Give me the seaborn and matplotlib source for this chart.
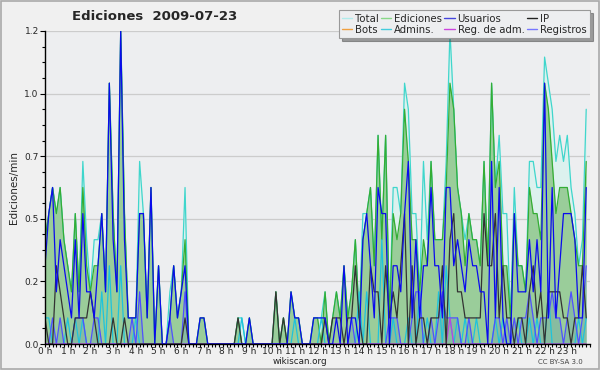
import numpy as np
import pandas as pd
import matplotlib
matplotlib.use("Agg")
import matplotlib.pyplot as plt
from matplotlib.lines import Line2D
from matplotlib.patches import Rectangle
import seaborn as sns

# edits per minute, one value per 10 minutes (144 bins)
total = [
    0.4, 0.5, 0.6, 0.5, 0.6, 0.4, 0.3, 0.2, 0.5, 0.2, 0.7, 0.4,
    0.2, 0.4, 0.4, 0.5, 0.2, 1.0, 0.5, 0.2, 1.2, 0.5, 0.1, 0.1,
    0.1, 0.7, 0.5, 0.1, 0.6, 0.0, 0.3, 0.0, 0.0, 0.2, 0.3, 0.1,
    0.2, 0.6, 0.0, 0.0, 0.0, 0.1, 0.1, 0.0, 0.0, 0.0, 0.0, 0.0,
    0.0, 0.0, 0.0, 0.1, 0.1, 0.0, 0.1, 0.0, 0.0, 0.0, 0.0, 0.0,
    0.0, 0.2, 0.0, 0.1, 0.0, 0.2, 0.1, 0.1, 0.0, 0.0, 0.0, 0.1,
    0.1, 0.1, 0.2, 0.0, 0.1, 0.2, 0.1, 0.3, 0.1, 0.2, 0.4, 0.1,
    0.5, 0.5, 0.6, 0.3, 0.8, 0.4, 0.8, 0.1, 0.6, 0.6, 0.5, 1.0,
    0.9, 0.5, 0.5, 0.2, 0.7, 0.4, 0.7, 0.4, 0.4, 0.4, 0.7, 1.2,
    0.9, 0.6, 0.5, 0.4, 0.5, 0.4, 0.4, 0.3, 0.7, 0.3, 1.0, 0.6,
    0.8, 0.5, 0.5, 0.1, 0.6, 0.3, 0.3, 0.2, 0.7, 0.7, 0.6, 0.6,
    1.1, 1.0, 0.9, 0.7, 0.8, 0.7, 0.8, 0.6, 0.5, 0.3, 0.4, 0.9,
]
ediciones = [
    0.4, 0.5, 0.6, 0.5, 0.6, 0.4, 0.3, 0.2, 0.5, 0.2, 0.6, 0.3,
    0.2, 0.3, 0.3, 0.5, 0.2, 1.0, 0.5, 0.2, 1.2, 0.5, 0.1, 0.1,
    0.1, 0.5, 0.5, 0.1, 0.6, 0.0, 0.3, 0.0, 0.0, 0.1, 0.3, 0.1,
    0.2, 0.4, 0.0, 0.0, 0.0, 0.1, 0.1, 0.0, 0.0, 0.0, 0.0, 0.0,
    0.0, 0.0, 0.0, 0.1, 0.0, 0.0, 0.1, 0.0, 0.0, 0.0, 0.0, 0.0,
    0.0, 0.2, 0.0, 0.1, 0.0, 0.2, 0.1, 0.1, 0.0, 0.0, 0.0, 0.1,
    0.1, 0.0, 0.2, 0.0, 0.1, 0.2, 0.1, 0.3, 0.1, 0.2, 0.4, 0.1,
    0.4, 0.5, 0.6, 0.3, 0.8, 0.4, 0.8, 0.1, 0.5, 0.4, 0.5, 0.9,
    0.7, 0.4, 0.4, 0.2, 0.4, 0.3, 0.7, 0.4, 0.4, 0.4, 0.6, 1.0,
    0.9, 0.6, 0.5, 0.3, 0.5, 0.4, 0.4, 0.3, 0.7, 0.3, 1.0, 0.6,
    0.7, 0.3, 0.3, 0.1, 0.5, 0.3, 0.3, 0.2, 0.6, 0.5, 0.5, 0.4,
    1.0, 0.9, 0.7, 0.5, 0.6, 0.6, 0.6, 0.5, 0.4, 0.3, 0.3, 0.7,
]
usuarios = [
    0.3, 0.5, 0.6, 0.2, 0.4, 0.3, 0.2, 0.1, 0.4, 0.1, 0.5, 0.2,
    0.2, 0.1, 0.3, 0.5, 0.2, 1.0, 0.4, 0.2, 1.2, 0.4, 0.1, 0.1,
    0.1, 0.5, 0.5, 0.1, 0.6, 0.0, 0.3, 0.0, 0.0, 0.1, 0.3, 0.1,
    0.2, 0.3, 0.0, 0.0, 0.0, 0.1, 0.1, 0.0, 0.0, 0.0, 0.0, 0.0,
    0.0, 0.0, 0.0, 0.0, 0.0, 0.0, 0.1, 0.0, 0.0, 0.0, 0.0, 0.0,
    0.0, 0.0, 0.0, 0.0, 0.0, 0.2, 0.1, 0.1, 0.0, 0.0, 0.0, 0.1,
    0.1, 0.1, 0.1, 0.0, 0.0, 0.1, 0.0, 0.3, 0.0, 0.1, 0.1, 0.0,
    0.4, 0.5, 0.3, 0.1, 0.6, 0.5, 0.5, 0.0, 0.3, 0.3, 0.2, 0.5,
    0.7, 0.1, 0.4, 0.1, 0.3, 0.3, 0.6, 0.3, 0.3, 0.1, 0.6, 0.6,
    0.3, 0.4, 0.3, 0.2, 0.4, 0.3, 0.3, 0.2, 0.2, 0.0, 0.7, 0.1,
    0.6, 0.1, 0.0, 0.0, 0.5, 0.2, 0.2, 0.2, 0.4, 0.2, 0.4, 0.2,
    1.0, 0.1, 0.6, 0.1, 0.3, 0.5, 0.5, 0.5, 0.4, 0.1, 0.1, 0.6,
]
ip = [
    0.1, 0.0, 0.0, 0.3, 0.2, 0.1, 0.0, 0.0, 0.1, 0.1, 0.1, 0.1,
    0.2, 0.1, 0.0, 0.0, 0.0, 0.0, 0.1, 0.0, 0.0, 0.1, 0.0, 0.0,
    0.0, 0.0, 0.0, 0.0, 0.0, 0.0, 0.0, 0.0, 0.0, 0.0, 0.0, 0.0,
    0.0, 0.1, 0.0, 0.0, 0.0, 0.0, 0.0, 0.0, 0.0, 0.0, 0.0, 0.0,
    0.0, 0.0, 0.0, 0.1, 0.0, 0.0, 0.0, 0.0, 0.0, 0.0, 0.0, 0.0,
    0.0, 0.2, 0.0, 0.1, 0.0, 0.0, 0.0, 0.0, 0.0, 0.0, 0.0, 0.0,
    0.0, 0.0, 0.1, 0.0, 0.1, 0.1, 0.1, 0.0, 0.1, 0.1, 0.3, 0.1,
    0.0, 0.0, 0.3, 0.2, 0.2, 0.0, 0.3, 0.1, 0.2, 0.1, 0.3, 0.5,
    0.0, 0.3, 0.0, 0.1, 0.1, 0.0, 0.1, 0.1, 0.1, 0.3, 0.0, 0.4,
    0.5, 0.2, 0.2, 0.1, 0.1, 0.1, 0.1, 0.1, 0.5, 0.3, 0.3, 0.5,
    0.1, 0.3, 0.1, 0.1, 0.0, 0.1, 0.1, 0.0, 0.2, 0.3, 0.1, 0.2,
    0.0, 0.2, 0.2, 0.2, 0.2, 0.1, 0.1, 0.0, 0.1, 0.1, 0.3, 0.1,
]
admins = [
    0.1, 0.1, 0.0, 0.0, 0.0, 0.0, 0.1, 0.0, 0.1, 0.0, 0.1, 0.0,
    0.0, 0.0, 0.0, 0.2, 0.0, 0.3, 0.0, 0.0, 0.3, 0.0, 0.0, 0.0,
    0.1, 0.0, 0.0, 0.0, 0.0, 0.0, 0.0, 0.0, 0.0, 0.0, 0.0, 0.0,
    0.0, 0.0, 0.0, 0.0, 0.0, 0.0, 0.0, 0.0, 0.0, 0.0, 0.0, 0.0,
    0.0, 0.0, 0.0, 0.0, 0.1, 0.0, 0.0, 0.0, 0.0, 0.0, 0.0, 0.0,
    0.0, 0.0, 0.0, 0.0, 0.0, 0.0, 0.1, 0.0, 0.0, 0.0, 0.0, 0.0,
    0.0, 0.1, 0.0, 0.0, 0.0, 0.0, 0.0, 0.0, 0.0, 0.0, 0.0, 0.2,
    0.0, 0.2, 0.0, 0.0, 0.0, 0.4, 0.0, 0.0, 0.1, 0.0, 0.0, 0.0,
    0.1, 0.0, 0.0, 0.2, 0.0, 0.1, 0.0, 0.0, 0.2, 0.0, 0.3, 0.1,
    0.0, 0.1, 0.0, 0.1, 0.0, 0.0, 0.1, 0.0, 0.0, 0.0, 0.0, 0.1,
    0.0, 0.1, 0.0, 0.0, 0.0, 0.1, 0.0, 0.0, 0.1, 0.0, 0.1, 0.0,
    0.0, 0.2, 0.0, 0.0, 0.0, 0.0, 0.0, 0.0, 0.0, 0.1, 0.0, 0.1,
]
registros = [
    0.0, 0.0, 0.1, 0.0, 0.1, 0.0, 0.0, 0.0, 0.1, 0.1, 0.1, 0.0,
    0.0, 0.1, 0.1, 0.0, 0.0, 0.0, 0.0, 0.0, 0.0, 0.0, 0.0, 0.1,
    0.0, 0.2, 0.0, 0.0, 0.0, 0.0, 0.0, 0.0, 0.0, 0.1, 0.0, 0.0,
    0.0, 0.2, 0.0, 0.0, 0.0, 0.0, 0.0, 0.0, 0.0, 0.0, 0.0, 0.0,
    0.0, 0.0, 0.0, 0.0, 0.0, 0.0, 0.0, 0.0, 0.0, 0.0, 0.0, 0.0,
    0.0, 0.0, 0.0, 0.0, 0.0, 0.0, 0.0, 0.0, 0.0, 0.0, 0.0, 0.0,
    0.0, 0.0, 0.0, 0.0, 0.0, 0.0, 0.0, 0.0, 0.0, 0.1, 0.0, 0.0,
    0.0, 0.0, 0.0, 0.0, 0.0, 0.0, 0.0, 0.1, 0.1, 0.1, 0.0, 0.0,
    0.0, 0.1, 0.2, 0.2, 0.0, 0.0, 0.1, 0.0, 0.1, 0.2, 0.1, 0.1,
    0.1, 0.1, 0.0, 0.0, 0.1, 0.0, 0.0, 0.0, 0.0, 0.0, 0.0, 0.1,
    0.1, 0.0, 0.1, 0.0, 0.1, 0.0, 0.1, 0.1, 0.2, 0.1, 0.0, 0.1,
    0.1, 0.1, 0.2, 0.1, 0.1, 0.0, 0.1, 0.2, 0.1, 0.0, 0.1, 0.3,
]
bots = [0.0] * 144
reg_adm = [0.0] * 107 + [0.1] + [0.0] * 36

hour_labels = ["%d h" % h for h in range(24)]
ytick_vals = [0, 0.24, 0.48, 0.72, 0.96, 1.2]
ytick_labels = ["0.0", "0.2", "0.5", "0.7", "1.0", "1.2"]

df = pd.DataFrame({
    "hora": np.arange(144) / 6.0,
    "Total": total, "Ediciones": ediciones, "Usuarios": usuarios, "IP": ip,
    "Bots": bots, "Admins.": admins, "Reg. de adm.": reg_adm, "Registros": registros,
})

sns.set_style("white", {"axes.facecolor": "#edeef0"})
plt.rcParams["font.family"] = ["DejaVu Sans"]

fig = plt.figure(figsize=(6, 3.7), dpi=100, facecolor="#f0f0f0")
ax = fig.add_axes([45 / 600, 26 / 370, 545 / 600, 313 / 370])
ax.set_facecolor("#edeef0")

for y in ytick_vals[1:]:
    ax.axhline(y, color="#cccccc", lw=0.9, zorder=0)

# filled areas
ax.fill_between(df["hora"], df["Total"], color="#dcf1ee", lw=0, zorder=1)
ax.fill_between(df["hora"], df["Ediciones"], color="#9acd9a", lw=0, zorder=2)
ax.fill_between(df["hora"], df["Registros"], color="#3a70c0", alpha=0.18, lw=0, zorder=3)

styles = [
    ("Total", "#3fd6cc", 4),
    ("Ediciones", "#34ad34", 5),
    ("Bots", "#f0a040", 5),
    ("Admins.", "#1fc3dc", 6),
    ("Registros", "#5050ff", 6),
    ("Reg. de adm.", "#c040e0", 7),
    ("IP", "#333333", 7),
    ("Usuarios", "#0a0aee", 8),
]
for name, col, z in styles:
    sns.lineplot(data=df, x="hora", y=name, ax=ax, color=col, lw=0.9,
                 zorder=z, legend=False)

ax.set_xlim(0, 24)
ax.set_ylim(0, 1.2)
ax.set_xticks(range(24))
ax.set_xticklabels(hour_labels)
ax.set_xticks(np.arange(0, 24.01, 1 / 6.0), minor=True)
ax.set_yticks(ytick_vals)
ax.set_yticklabels(ytick_labels)
ax.set_yticks(np.arange(0, 1.201, 0.06), minor=True)
ax.tick_params(axis="both", which="both", direction="out", color="black",
               width=0.8, labelsize=6.5)
ax.tick_params(axis="x", which="both", length=2.2, pad=0.3)
ax.tick_params(axis="y", which="major", length=3.5, pad=1)
ax.tick_params(axis="y", which="minor", length=2)
ax.tick_params(left=True, bottom=True, which="both")
for s in ["top", "right"]:
    ax.spines[s].set_visible(False)
for s in ["left", "bottom"]:
    ax.spines[s].set_color("black")
    ax.spines[s].set_linewidth(1.0)
    ax.spines[s].set_zorder(10)
ax.set_xlabel("")
ax.set_ylabel("Ediciones/min", fontsize=7.5, labelpad=4)

fig.text(155 / 600, 1 - 17 / 370, "Ediciones  2009-07-23", ha="center", va="center",
         fontsize=9.5, fontweight="bold")
fig.text(300 / 600, 1 - 362 / 370, "wikiscan.org", ha="center", va="center", fontsize=6.3,
         color="#222222")
fig.text(560 / 600, 1 - 362 / 370, "CC BY-SA 3.0", ha="center", va="center", fontsize=5,
         color="#444444")

legend_cols = {
    "Total": "#b0ecec", "Ediciones": "#88d888", "Usuarios": "#4444dd", "IP": "#222222",
    "Bots": "#f0a040", "Admins.": "#44ccdd", "Reg. de adm.": "#cc44dd", "Registros": "#7777ff",
}
order = ["Total", "Bots", "Ediciones", "Admins.", "Usuarios", "Reg. de adm.", "IP", "Registros"]
handles = [Line2D([0], [0], color=legend_cols[n], lw=1.0) for n in order]
leg = fig.legend(handles, order, loc="upper right", bbox_to_anchor=(590 / 600, 1 - 10 / 370),
                 ncol=4, fontsize=7.3, frameon=True, fancybox=False, shadow=True,
                 handlelength=1.0, handletextpad=0.3, columnspacing=0.2,
                 labelspacing=0.1, borderpad=0.35, borderaxespad=0)
leg.get_frame().set_edgecolor("#999999")
leg.get_frame().set_linewidth(0.8)

fig.patches.append(Rectangle((0.001, 0.002), 0.997, 0.995, transform=fig.transFigure,
                             fill=False, edgecolor="#aaaaaa", lw=1.2))

fig.savefig("out.png", dpi=100, facecolor=fig.get_facecolor())
